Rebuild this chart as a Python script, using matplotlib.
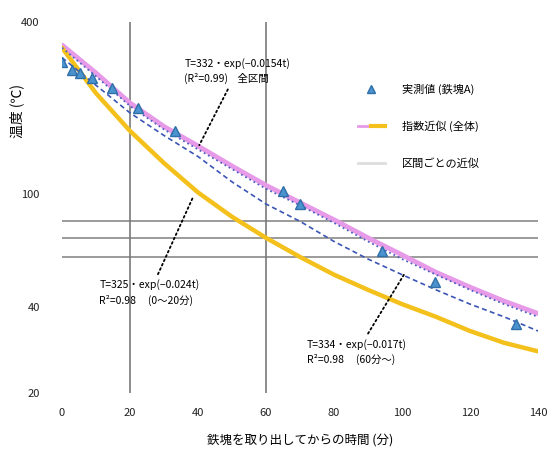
import matplotlib.pyplot as plt
from matplotlib.lines import Line2D
from matplotlib.legend_handler import HandlerTuple

plt.rcParams['font.family'] = ['Noto Sans CJK JP', 'DejaVu Sans']

# measured points
t_obs = [0, 2.9, 5.3, 8.8, 14.7, 22.4, 33.3, 65.1, 70.1, 94.2, 109.8, 133.4]
temp_obs = [289, 271, 266, 254, 234, 200, 166, 102, 92, 63, 49, 35]

# curves
t_curve = [0, 10, 20, 30, 40, 50, 60, 70, 80, 90, 100, 110, 120, 130, 140]
pink_fit = [332, 265, 208, 172, 147, 125, 107, 93, 81, 70, 61, 53, 47, 42, 38]
dotted_fit = [325, 258, 203, 168, 143, 122, 104, 91, 79, 68, 59, 52, 46, 41, 37]
dashed_fit = [300, 240, 192, 160, 135, 110, 92, 80, 68, 59, 52, 46, 41, 37, 33]
yellow_fit = [325, 225, 166, 128, 101, 83, 70, 60, 52, 46, 41, 37, 33, 30, 28]

ref_levels = [60, 70, 80]
ref_times = [20, 60]

y_ticks = [20, 40, 100, 400]
x_ticks = [0, 20, 40, 60, 80, 100, 120, 140]

fig = plt.figure(figsize=(5.58, 4.51), dpi=100)
ax = fig.add_axes([62/558, 1-393/451, 476/558, 371/451])
ax.set_yscale('log')

for lv in ref_levels:
    ax.axhline(lv, color='#8a8a8a', lw=1.2, zorder=1)
for tv in ref_times:
    ax.axvline(tv, color='#7a7a7a', lw=1.2, zorder=1)

ax.plot(t_curve, pink_fit, color='#e79ae8', lw=3.5, solid_capstyle='round', zorder=2)
ax.plot(t_curve, dotted_fit, color='#5060c0', lw=1.3, ls=':', zorder=3)
ax.plot(t_curve, dashed_fit, color='#3b55b5', lw=1.2, ls=(0, (3, 2)), zorder=3)
ax.plot(t_curve, yellow_fit, color='#f4c11c', lw=3.2, solid_capstyle='round', zorder=2)
ax.plot(t_obs, temp_obs, ls='none', marker='^', ms=7, color='#4a93cf',
        mec='#2f6fa8', zorder=4)

ax.set_xlim(0, 140)
ax.set_ylim(20, 400)
ax.set_xticks(x_ticks)
ax.set_yticks(y_ticks)
ax.set_yticklabels([str(v) for v in y_ticks])
ax.yaxis.set_minor_locator(plt.NullLocator())
ax.tick_params(length=0, labelsize=8, colors='#222222')
ax.tick_params(axis='y', pad=16)
ax.tick_params(axis='x', pad=11)
for s in ax.spines.values():
    s.set_visible(False)

ax.set_xlabel('鉄塊を取り出してからの時間 (分)', fontsize=9)
ax.xaxis.set_label_coords(0.5, -0.11)
ax.set_ylabel('温度 (℃)', fontsize=10)
ax.yaxis.set_label_coords(-0.08, 0.76)

arrow = dict(arrowstyle='-', color='black', ls=':', lw=1.3)
ax.annotate('T=332・exp(−0.0154t)\n(R²=0.99)    全区間', xy=(40, 145), xytext=(36, 300),
            fontsize=7.5, ha='left', va='top', arrowprops=arrow, linespacing=1.5)
ax.annotate('T=325・exp(−0.024t)\nR²=0.98     (0〜20分)', xy=(39, 100), xytext=(11, 50),
            fontsize=7.5, ha='left', va='top', arrowprops=arrow, linespacing=1.5)
ax.annotate('T=334・exp(−0.017t)\nR²=0.98     (60分〜)', xy=(101, 53), xytext=(72, 31),
            fontsize=7.5, ha='left', va='top', arrowprops=arrow, linespacing=1.5)

h1 = Line2D([], [], ls='none', marker='^', ms=6, color='#4a93cf', mec='#2f6fa8')
h2a = Line2D([], [], color='#e79ae8', lw=2)
h2b = Line2D([], [], color='#f4c11c', lw=3)
h3 = Line2D([], [], color='#dddddd', lw=2)
ax.legend([h1, (h2a, h2b), h3], ['実測値 (鉄塊A)', '指数近似 (全体)', '区間ごとの近似'],
          handler_map={tuple: HandlerTuple(ndivide=2, pad=0)},
          loc='upper left', bbox_to_anchor=(0.6, 0.86), frameon=False,
          fontsize=8, labelspacing=2.3, handlelength=2.5, handletextpad=1.5)

fig.savefig('out.png', dpi=100)
